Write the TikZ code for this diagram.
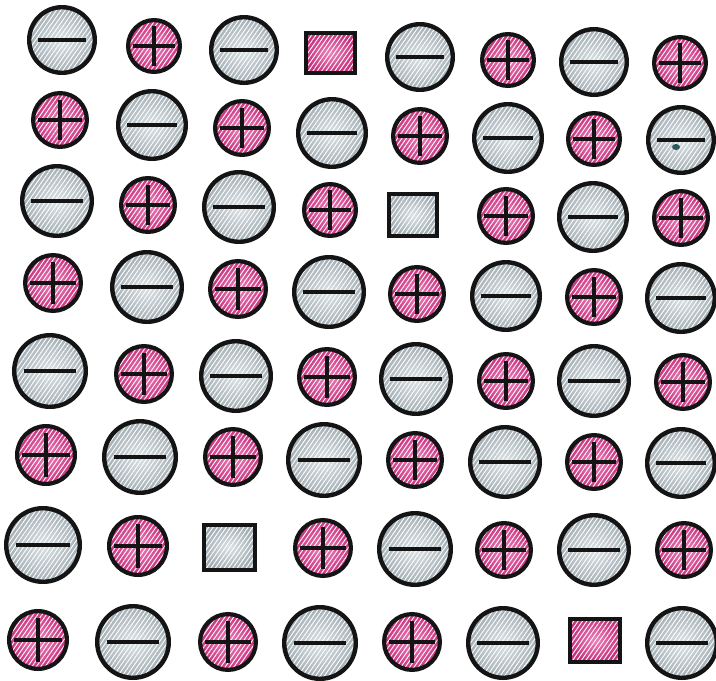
\documentclass[tikz,border=0pt]{standalone}
\usetikzlibrary{patterns.meta}
\definecolor{grayin}{HTML}{DCE3E6}
\definecolor{grayout}{HTML}{A2ADB3}
\definecolor{pinkin}{HTML}{EE82BC}
\definecolor{pinkout}{HTML}{C8307C}
\definecolor{inkc}{HTML}{141414}
\tikzset{
  hatch/.style={path picture={\fill[pattern={Lines[angle=55,distance=3.6pt,line width=0.9pt]}, pattern color=white, fill opacity=0.3]
     (path picture bounding box.south west) rectangle (path picture bounding box.north east);}},
  negball/.style={circle, inner sep=0pt, outer sep=0pt, draw=inkc, line width=4.4pt,
     shading=radial, inner color=grayin, outer color=grayout, hatch},
  posball/.style={circle, inner sep=0pt, outer sep=0pt, draw=inkc, line width=4.2pt,
     shading=radial, inner color=pinkin, outer color=pinkout, hatch},
  negsq/.style={rectangle, inner sep=0pt, outer sep=0pt, draw=inkc, line width=4pt,
     shading=radial, inner color=grayin, outer color=grayout, hatch},
  possq/.style={rectangle, inner sep=0pt, outer sep=0pt, draw=inkc, line width=4pt,
     shading=radial, inner color=pinkin, outer color=pinkout, hatch},
  bar/.style={draw=inkc, line width=4pt},
}
\begin{document}
\begin{tikzpicture}[x=1pt,y=-1pt]
\useasboundingbox[fill=white] (0,0) rectangle (716,681);
% negative balls
\foreach \n/\x/\y/\r in {
  g11/62/40/35, g13/244/50/35, g15/420/57/35, g17/594/62/35,
  g22/152/125/36, g24/332/133/36, g26/508/138/36, g28/681/140/35,
  g31/57/201/37, g33/239/207/37, g37/593/217/36,
  g42/147/287/37, g44/329/292/37, g46/506/296/36, g48/681/298/36,
  g51/50/371/38, g53/236/376/37, g55/416/379/37, g57/594/381/37,
  g62/140/457/38, g64/324/460/38, g66/505/462/37, g68/681/463/36,
  g71/43/545/39, g75/415/549/38, g77/594/550/37,
  g82/133/642/38, g84/320/643/38, g86/503/643/37, g88/682/643/37}{
  \node[negball, minimum size={\r*2pt-4.4pt}] (\n) at (\x,\y) {};
  \draw[bar] ([xshift={-\r*0.69pt}]\n.center) -- ([xshift={\r*0.69pt}]\n.center);
}
% positive balls
\foreach \n/\x/\y/\r in {
  p12/154/46/28, p16/508/60/28, p18/680/63/28,
  p21/60/120/29, p23/242/128/29, p25/420/136/29, p27/594/139/28,
  p32/148/205/29, p34/330/210/28, p36/506/216/29, p38/681/218/29,
  p41/53/283/30, p43/238/289/30, p45/417/294/29, p47/594/297/29,
  p52/144/374/30, p54/327/377/30, p56/506/381/29, p58/683/382/29,
  p61/46/455/31, p63/233/457/30, p65/415/460/29, p67/594/462/29,
  p72/138/546/31, p74/323/548/30, p76/504/550/29, p78/684/550/29,
  p81/38/640/31, p83/228/642/30, p85/412/642/30}{
  \node[posball, minimum size={\r*2pt-4.2pt}] (\n) at (\x,\y) {};
  \draw[bar] ([xshift={-\r*0.76pt}]\n.center) -- ([xshift={\r*0.76pt}]\n.center);
  \draw[bar] ([yshift={-\r*0.7pt}]\n.center) -- ([yshift={\r*0.7pt}]\n.center);
}
% squares
\node[possq, minimum width=49pt, minimum height=40pt] (s14) at (330,53) {};
\node[negsq, minimum width=48pt, minimum height=42pt] (s35) at (413,215) {};
\node[negsq, minimum width=51pt, minimum height=45pt] (s73) at (229,547) {};
\node[possq, minimum width=50pt, minimum height=43pt] (s87) at (595,640) {};
% smudge
\fill[fill=black!55!teal, opacity=0.8] ([xshift=-5pt,yshift=-7pt]g28.center) ellipse (4pt and 3pt);
\end{tikzpicture}
\end{document}
